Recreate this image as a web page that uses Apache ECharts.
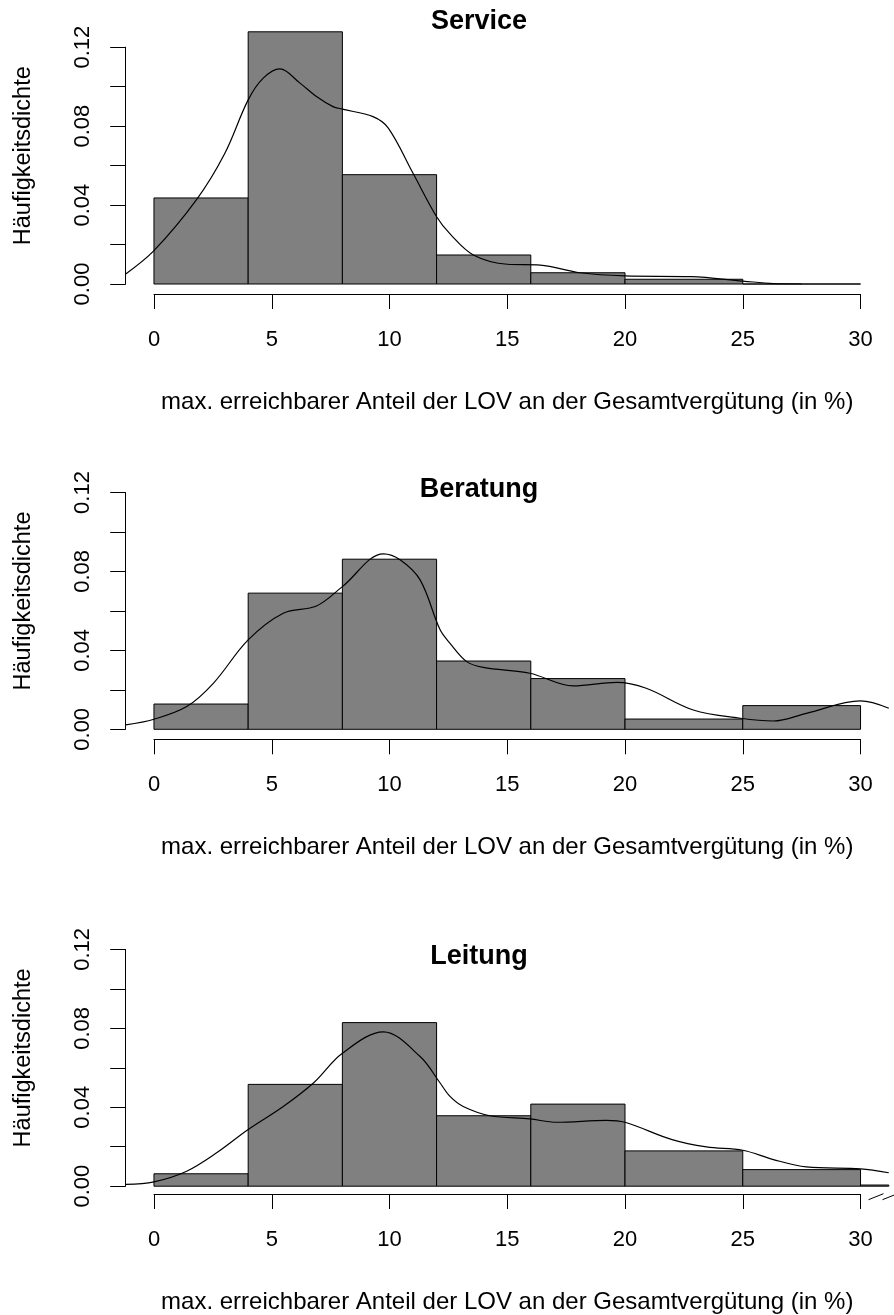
<!DOCTYPE html>
<html>
<head>
<meta charset="utf-8">
<script src="https://cdn.jsdelivr.net/npm/echarts@6/dist/echarts.min.js"></script>
<style>
html,body{margin:0;padding:0;background:#fff;}
#c{width:894px;height:1315px;}
</style>
</head>
<body>
<div id="c"></div>
<script>
// ---------- data ----------
const panelTitles = ['Service', 'Beratung', 'Leitung'];
const xAxisTitle = 'max. erreichbarer Anteil der LOV an der Gesamtvergütung (in %)';
const yAxisTitle = 'Häufigkeitsdichte';
const yTickLabels = ['0.00', '0.04', '0.08', '0.12'];

const breaksService = [0, 4, 8, 12, 16, 20, 25, 30];
const densService   = [0.0436, 0.1278, 0.0554, 0.0147, 0.0057, 0.0024, 0];
const breaksBeratung = [0, 4, 8, 12, 16, 20, 25, 30];
const densBeratung   = [0.0128, 0.0690, 0.0862, 0.0346, 0.0257, 0.0052, 0.0120];
const breaksLeitung = [0, 4, 8, 12, 16, 20, 25, 30, 40];
const densLeitung   = [0.0063, 0.0516, 0.0829, 0.0357, 0.0416, 0.0179, 0.0084, 0.0006];

const kdeServiceX = [-1.2, 0, 1.8, 3.0, 4.0, 4.64, 5.35, 6.2, 6.9, 7.6, 8.0, 9.3, 9.95, 11.0, 12.0, 12.6, 13.56, 15.0, 16.4, 18.1, 20.0, 22.8, 25.0, 26.3, 27.5];
const kdeServiceY = [0.0051, 0.0169, 0.0426, 0.066, 0.0933, 0.1043, 0.109, 0.1018, 0.095, 0.0899, 0.0886, 0.0848, 0.079, 0.0561, 0.0341, 0.0250, 0.0147, 0.0100, 0.0096, 0.0057, 0.0041, 0.0037, 0.0015, 0.0002, 0.0];
const kdeBeratungX = [-1.2, 0, 1.39, 2.52, 4.0, 5.49, 6.9, 8.0, 9.74, 10.45, 11.3, 12.15, 12.57, 13.28, 13.98, 15.96, 17.8, 19.65, 20.9, 22.9, 24.9, 26.3, 27.7, 30.0, 31.2];
const kdeBeratungY = [0.0022, 0.0051, 0.0115, 0.0233, 0.0453, 0.0588, 0.0625, 0.0723, 0.0889, 0.0859, 0.0757, 0.0504, 0.0436, 0.0343, 0.0314, 0.0284, 0.0220, 0.0238, 0.0208, 0.0098, 0.0056, 0.0042, 0.0081, 0.0144, 0.0107];
const kdeLeitungX = [-1.2, 0, 1.39, 2.66, 4.0, 5.49, 6.77, 8.0, 9.74, 11.3, 12.15, 12.57, 13.13, 14.27, 15.96, 17.1, 19.2, 20.0, 22.0, 23.46, 25.0, 26.3, 27.7, 30.0, 31.2];
const kdeLeitungY = [0.0009, 0.0022, 0.0076, 0.0169, 0.0287, 0.0404, 0.0523, 0.0674, 0.0782, 0.0657, 0.0523, 0.0455, 0.0404, 0.0357, 0.0341, 0.0324, 0.0334, 0.0324, 0.0236, 0.0199, 0.0182, 0.0135, 0.0098, 0.0088, 0.0068];

const panelBreaks = [breaksService, breaksBeratung, breaksLeitung];
const panelDens = [densService, densBeratung, densLeitung];
const panelKdeX = [kdeServiceX, kdeBeratungX, kdeLeitungX];
const panelKdeY = [kdeServiceY, kdeBeratungY, kdeLeitungY];

// ---------- layout ----------
const zeroY = [284, 729.3, 1186.2];
const yScalePx = 236.8;          // pixels for 0..0.12
const plotLeft = 125.7, plotRight = 888.8;   // x range -1.2 .. 31.2
const axisLeft = 154, axisRight = 860.5;     // x range 0 .. 30
const FONT = '"Liberation Sans", Arial, Helvetica, sans-serif';
const titleCenterX = 479;
const titleCenterY = [22, 490, 956.5];

const chart = echarts.init(document.getElementById('c'), null, {renderer: 'canvas'});

const grids = [], xAxes = [], yAxes = [], series = [], graphics = [];

function histRender(params, api) {
  const cs = params.coordSys;
  const p0 = api.coord([api.value(0), 0]);
  const p1 = api.coord([api.value(1), api.value(2)]);
  const x0 = Math.max(p0[0], cs.x);
  const x1 = Math.min(p1[0], cs.x + cs.width);
  const h = Math.max(p0[1] - p1[1], 0);
  return {
    type: 'rect',
    shape: {x: x0, y: p1[1], width: x1 - x0, height: h},
    style: {fill: '#808080', stroke: '#000', lineWidth: 1}
  };
}

for (let i = 0; i < 3; i++) {
  const top = zeroY[i] - yScalePx;
  grids.push({left: plotLeft, width: plotRight - plotLeft, top: top, height: yScalePx, containLabel: false});
  grids.push({left: axisLeft, width: axisRight - axisLeft, top: top, height: yScalePx, containLabel: false});
  const gData = 2 * i, gAxis = 2 * i + 1;

  xAxes.push({
    gridIndex: gData, type: 'value', min: -1.2, max: 31.2, show: false
  });
  xAxes.push({
    gridIndex: gAxis, type: 'value', min: 0, max: 30, interval: 5, position: 'bottom', offset: 10,
    axisLine: {show: true, onZero: false, lineStyle: {color: '#000', width: 1}},
    axisTick: {show: true, inside: false, length: 15, lineStyle: {color: '#000', width: 1}},
    axisLabel: {show: true, margin: 35, fontSize: 22, color: '#000', fontFamily: FONT},
    splitLine: {show: false},
    name: xAxisTitle, nameLocation: 'middle', nameGap: 96,
    nameTextStyle: {fontSize: 24, color: '#000', fontFamily: FONT}
  });
  yAxes.push({
    gridIndex: gData, type: 'value', min: 0, max: 0.12, interval: 0.02, position: 'left',
    axisLine: {show: true, onZero: false, lineStyle: {color: '#000', width: 1}},
    axisTick: {show: true, inside: false, length: 15.5, lineStyle: {color: '#000', width: 1}},
    axisLabel: {
      show: true, rotate: 90, margin: 32, fontSize: 22, color: '#000', fontFamily: FONT,
      formatter: function (v) {
        const k = Math.round(v * 100);
        return (k % 4 === 0) ? yTickLabels[k / 4] : '';
      }
    },
    splitLine: {show: false}
  });
  yAxes.push({gridIndex: gAxis, type: 'value', min: 0, max: 0.12, show: false});

  const br = panelBreaks[i], de = panelDens[i];
  const histData = de.map((d, j) => [br[j], br[j + 1], d]);
  series.push({
    type: 'custom', xAxisIndex: gData, yAxisIndex: gData,
    renderItem: histRender, data: histData, clip: false, silent: true,
    encode: {x: [0, 1], y: 2}, z: 2
  });
  const kx = panelKdeX[i], ky = panelKdeY[i];
  series.push({
    type: 'line', xAxisIndex: gData, yAxisIndex: gData,
    data: kx.map((v, j) => [v, ky[j]]),
    showSymbol: false, smooth: 0.35, clip: true, silent: true,
    lineStyle: {color: '#000', width: 1.2}, z: 3
  });

  graphics.push({
    type: 'text', x: titleCenterX, y: titleCenterY[i],
    style: {text: panelTitles[i], fill: '#000', font: 'bold 27px ' + FONT, align: 'center', verticalAlign: 'middle'}
  });
  graphics.push({
    type: 'text', x: 24, y: zeroY[i] - 0.065 * yScalePx / 0.12, rotation: Math.PI / 2,
    style: {text: yAxisTitle, fill: '#000', font: '23.5px ' + FONT, align: 'center', verticalAlign: 'middle'}
  });
}

chart.setOption({
  animation: false,
  backgroundColor: '#fff',
  grid: grids, xAxis: xAxes, yAxis: yAxes, series: series, graphic: graphics
});

// axis break mark on the last panel's x axis (placed relative to the axis end)
const xEnd = chart.convertToPixel({xAxisIndex: 5}, 30);
const axY = zeroY[2] + 10;
chart.setOption({
  graphic: graphics.concat([
    {type: 'line', shape: {x1: xEnd + 8, y1: axY + 3.5, x2: xEnd + 23, y2: axY - 2.5}, style: {stroke: '#000', lineWidth: 1}},
    {type: 'line', shape: {x1: xEnd + 22, y1: axY + 3.5, x2: xEnd + 37, y2: axY - 2.5}, style: {stroke: '#000', lineWidth: 1}}
  ])
});
</script>
</body>
</html>
